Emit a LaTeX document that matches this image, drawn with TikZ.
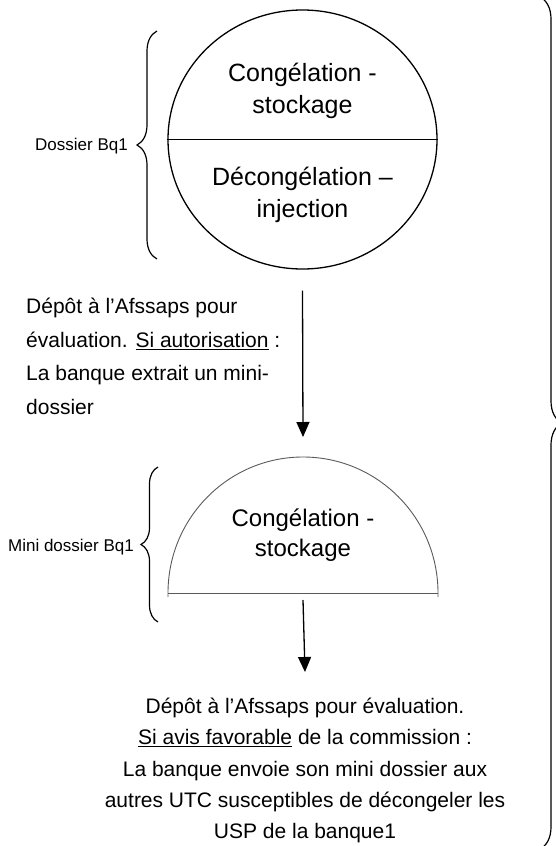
\documentclass[tikz,border=0pt]{standalone}
\usepackage{fontspec}
\setmainfont{Liberation Sans}
\usetikzlibrary{arrows.meta,shapes.geometric,decorations.pathreplacing}
\begin{document}
\begin{tikzpicture}[
      x=1pt, y=-1pt,
      every node/.style = {inner sep=0pt, align=center},
      grand/.style = {font=\fontsize{25}{32}\selectfont},
      moyen/.style = {font=\fontsize{21}{#1}\selectfont},
      petit/.style = {font=\fontsize{17}{20}\selectfont},
      accolade/.style = {decorate, decoration={brace, amplitude=#1}, line width=1.2pt},
      fleche/.style = {line width=1.3pt, -{Triangle[length=15pt, width=13pt]}},
      gris/.style = {draw=black!65, line width=0.9pt}
      ]
      \useasboundingbox (0,0) rectangle (555,846);
      \node[draw, ellipse, line width=1.3pt, minimum width=269pt, minimum height=259pt] (dossier) at (302.5,139.5) {};
      \draw[line width=1.3pt] (dossier.west) -- (dossier.east);
      \node[grand] (congel) at (302.5,91) {Congélation -\\stockage};
      \node[grand] (decongel) at (302.5,195) {Décongélation –\\injection};
      \draw[accolade=20pt] (157,259) -- (157,31);
      \node[petit, anchor=east] (lbldossier) at (128,146) {Dossier Bq1};

      \node[moyen=33.5, anchor=north west, align=left] (depot) at (26,298)
        {Dépôt à l’Afssaps pour\\évaluation. \underline{Si autorisation} :\\La banque extrait un mini-\\dossier};

      \coordinate (minihaut) at (303,457);
      \coordinate (minibas) at (303,593);
      \draw[gris] (168,597) -- (168,593) arc[start angle=180, end angle=360, x radius=135, y radius=136] -- (438,597);
      \draw[gris] (168,593) -- (438,593);
      \node[font=\fontsize{24}{30}\selectfont] (mini) at (303,535) {Congélation -\\stockage};
      \draw[accolade=17pt] (158,622) -- (158,467);
      \node[petit, anchor=east] (lblmini) at (134,547) {Mini dossier Bq1};

      \node[moyen=31.3, anchor=north] (avis) at (305,698)
        {Dépôt à l’Afssaps pour évaluation.\\\underline{Si avis favorable} de la commission :\\La banque envoie son mini dossier aux\\autres UTC susceptibles de décongeler les\\USP de la banque1};

      \draw[accolade=22pt] (540,-3) -- (540,849);

      \draw[fleche] ([yshift=-21pt]dossier.south) -- ([yshift=20pt]minihaut);
      \draw[fleche] ([yshift=-7pt]minibas) -- ([yshift=26pt]avis.north);
    \end{tikzpicture}
\end{document}
